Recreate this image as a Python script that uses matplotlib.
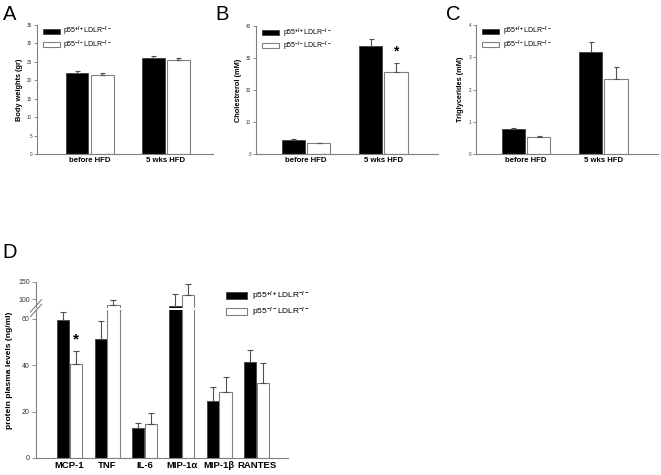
import matplotlib
matplotlib.use("Agg")
import matplotlib.pyplot as plt
import numpy as np

plt.rcParams["font.family"] = ["Liberation Sans", "DejaVu Sans"]
plt.rcParams["mathtext.fontset"] = "custom"
plt.rcParams["mathtext.rm"] = "Liberation Sans:bold"
plt.rcParams["mathtext.bf"] = "Liberation Sans:bold"
plt.rcParams["mathtext.default"] = "bf"

# --- data -------------------------------------------------------------
groups = ["before HFD", "5 wks HFD"]
series = ["p55$^{+/+}$LDLR$^{-/-}$", "p55$^{-/-}$LDLR$^{-/-}$"]

weight_wt = [22.0, 26.0]
weight_wt_err = [0.5, 0.6]
weight_ko = [21.3, 25.4]
weight_ko_err = [0.6, 0.6]

chol_wt = [4.4, 33.9]
chol_wt_err = [0.2, 2.1]
chol_ko = [3.4, 25.7]
chol_ko_err = [0.1, 2.8]

tg_wt = [0.78, 3.15]
tg_wt_err = [0.04, 0.33]
tg_ko = [0.54, 2.33]
tg_ko_err = [0.03, 0.37]

cytokines = ["MCP-1", "TNF", "IL-6", "MIP-1α", "MIP-1β", "RANTES"]
cyto_wt = [59.5, 51.3, 12.8, 80.0, 24.7, 41.2]
cyto_wt_err = [4.3, 7.7, 2.2, 35.0, 5.8, 5.3]
cyto_ko = [40.5, 82.0, 14.5, 111.0, 28.6, 32.2]
cyto_ko_err = [5.5, 15.0, 4.8, 32.0, 6.4, 8.6]

W, H = 661, 475
GRAY = "#808080"
ERR = "#505050"


def px_axes(fig, left, top, right, bottom):
    return fig.add_axes([left / W, 1 - bottom / H, (right - left) / W, (bottom - top) / H])


def style_axes(ax, tick_size):
    for s in ("top", "right"):
        ax.spines[s].set_visible(False)
    for s in ("left", "bottom"):
        ax.spines[s].set_color(GRAY)
        ax.spines[s].set_linewidth(0.8)
    ax.tick_params(axis="y", colors=GRAY, labelcolor="#333333", labelsize=tick_size,
                   length=2, width=0.6, pad=1.5)
    ax.tick_params(axis="x", length=0, pad=2.5)


def draw_pairs(ax, labels, wt, wt_err, ko, ko_err, width, offset, capsize):
    x = np.arange(len(labels))
    kw = dict(ecolor=ERR, elinewidth=0.8, capthick=0.8)
    ax.bar(x - offset, wt, width, color="black", edgecolor="#404040", linewidth=0.6,
           yerr=[np.zeros(len(wt)), wt_err], capsize=capsize, error_kw=kw, label=series[0])
    ax.bar(x + offset, ko, width, color="white", edgecolor=GRAY, linewidth=0.8,
           yerr=[np.zeros(len(ko)), ko_err], capsize=capsize, error_kw=kw, label=series[1])
    ax.set_xticks(x)
    return x


fig = plt.figure(figsize=(W / 100, H / 100), dpi=100)

# --- panels A-C -------------------------------------------------------
small = [
    ("A", (37, 25, 213, 154), weight_wt, weight_wt_err, weight_ko, weight_ko_err,
     35, 5, "Body weights (gr)", (-0.69, 1.62), 3),
    ("B", (256, 26, 438, 154), chol_wt, chol_wt_err, chol_ko, chol_ko_err,
     40, 10, "Cholestrerol (mM)", (-0.65, 1.71), 215),
    ("C", (476, 25, 658, 154), tg_wt, tg_wt_err, tg_ko, tg_ko_err,
     4, 1, "Triglycerides (mM)", (-0.65, 1.71), 446),
]

for letter, box, wt, wte, ko, koe, ymax, step, ylab, xlim, lx in small:
    ax = px_axes(fig, *box)
    x = draw_pairs(ax, groups, wt, wte, ko, koe, 0.30, 0.165, 1.8)
    ax.set_xticklabels(groups, fontsize=5.6, fontweight="bold")
    ax.set_xlim(*xlim)
    ax.set_ylim(0, ymax)
    ax.set_yticks(np.arange(0, ymax + step / 2, step))
    style_axes(ax, 3.3)
    ax.set_ylabel(ylab, fontsize=5.3, fontweight="bold", labelpad=3)
    ax.legend(loc="upper left", bbox_to_anchor=(0.02, 1.02), frameon=False, fontsize=5.0,
              handlelength=2.4, handleheight=0.75, handletextpad=0.5, labelspacing=0.0,
              borderaxespad=0)
    fig.text(lx / W, 1 - 5 / H, letter, fontsize=14.5, va="top", ha="left")
    if letter == "B":
        ax.text(x[1] + 0.165, ko[1] + koe[1] + 1.5, "*", ha="center", va="bottom",
                fontsize=10, fontweight="bold")

# --- panel D (broken y axis) -----------------------------------------
B_BREAK, R = 63.0, 0.148


def fwd(y):
    y = np.asarray(y, dtype=float)
    return np.where(y <= B_BREAK, y, B_BREAK + (y - B_BREAK) * R)


def inv(f):
    f = np.asarray(f, dtype=float)
    return np.where(f <= B_BREAK, f, B_BREAK + (f - B_BREAK) / R)


axd = px_axes(fig, 36, 282, 288, 458)
axd.set_yscale("function", functions=(fwd, inv))
x = draw_pairs(axd, cytokines, cyto_wt, cyto_wt_err, cyto_ko, cyto_ko_err, 0.33, 0.17, 2.2)
axd.set_xticklabels(cytokines, fontsize=6.8, fontweight="bold")
axd.set_xlim(-0.9, 5.84)
axd.set_ylim(0, 150)
axd.set_yticks([0, 20, 40, 60, 100, 150])
axd.set_yticklabels(["0", "20", "40", "60", "100", "150"])
style_axes(axd, 5)
axd.tick_params(axis="y", length=3)
axd.set_ylabel("protein plasma levels (ng/ml)", fontsize=6, fontweight="bold", labelpad=4)

# gap across the bars at the axis break
axd.axhspan(68, 74, color="white", zorder=5, lw=0)
ftop = float(fwd(150))
for fb in (63.6, 65.6):
    yb = fb / ftop
    axd.plot([-0.022, 0.022], [yb - 0.035, yb + 0.035], transform=axd.transAxes,
             color=GRAY, lw=0.8, clip_on=False, zorder=6)

axd.text(x[0] + 0.17, cyto_ko[0] + cyto_ko_err[0] + 2, "*", ha="center", va="bottom",
         fontsize=11, fontweight="bold")
axd.legend(loc="upper left", bbox_to_anchor=(0.74, 0.975), frameon=False, fontsize=6,
           handlelength=2.6, handleheight=0.8, handletextpad=0.5, labelspacing=0.3,
           borderaxespad=0)
fig.text(2 / W, 1 - 243 / H, "D", fontsize=14.5, va="top", ha="left")

fig.savefig("out.png", dpi=100)
